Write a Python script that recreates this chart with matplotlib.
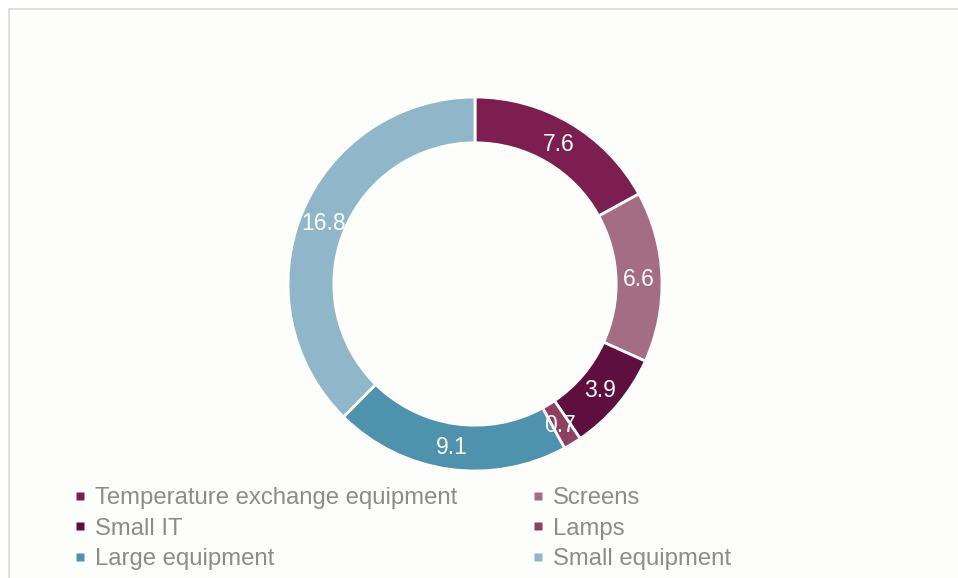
import numpy as np
import matplotlib.pyplot as plt
from matplotlib.lines import Line2D
from matplotlib.patches import Rectangle

plt.rcParams['font.family'] = ['Liberation Sans', 'DejaVu Sans']

categories = ['Temperature exchange equipment', 'Screens', 'Small IT',
              'Lamps', 'Large equipment', 'Small equipment']
values = [7.6, 6.6, 3.9, 0.7, 9.1, 16.8]
colors = ['#7c1f50', '#a56d83', '#5f0f3d', '#8e3f62', '#4f92ae', '#90b6ca']

W, H = 958, 578
fig = plt.figure(figsize=(W / 100, H / 100), dpi=100)

# chart area frame
fig.patches.append(Rectangle((9 / W, -0.1), 1.0, 1 - 9 / H + 0.1,
                             transform=fig.transFigure, facecolor='#fdfdfb',
                             edgecolor='#d9d9d9', lw=1.2, zorder=-5))

cx, cy, r = 475, 284, 187
ax = fig.add_axes([(cx - r) / W, (H - cy - r) / H, 2 * r / W, 2 * r / H])
ax.set_facecolor('none')

wedges, _ = ax.pie(values, colors=colors, startangle=90, counterclock=False,
                   radius=1.0,
                   wedgeprops=dict(width=0.245, edgecolor='white', linewidth=2))
ax.set_xlim(-1, 1)
ax.set_ylim(-1, 1)

for w, v in zip(wedges, values):
    ang = np.deg2rad((w.theta1 + w.theta2) / 2)
    ax.text(0.875 * np.cos(ang), 0.875 * np.sin(ang) - 0.008, f'{v:.1f}',
            ha='center', va='center', color='white', fontsize=16.5)

# legend rows read left-to-right, so feed the columns in that order
order = [0, 2, 4, 1, 3, 5]
handles = [Line2D([], [], ls='none', marker='s', markersize=5.5,
                  markerfacecolor=colors[i], markeredgecolor='none')
           for i in order]
leg = fig.legend(handles, [categories[i] for i in order], ncol=2,
                 loc='upper left', bbox_to_anchor=(74 / W, 1 - 487 / H),
                 frameon=False, fontsize=17.2, handlelength=0.5,
                 handletextpad=0.375, columnspacing=3.14, labelspacing=0.36,
                 borderpad=0, borderaxespad=0)
for t in leg.get_texts():
    t.set_color('#8c8c8c')

fig.savefig('out.png', dpi=100)
